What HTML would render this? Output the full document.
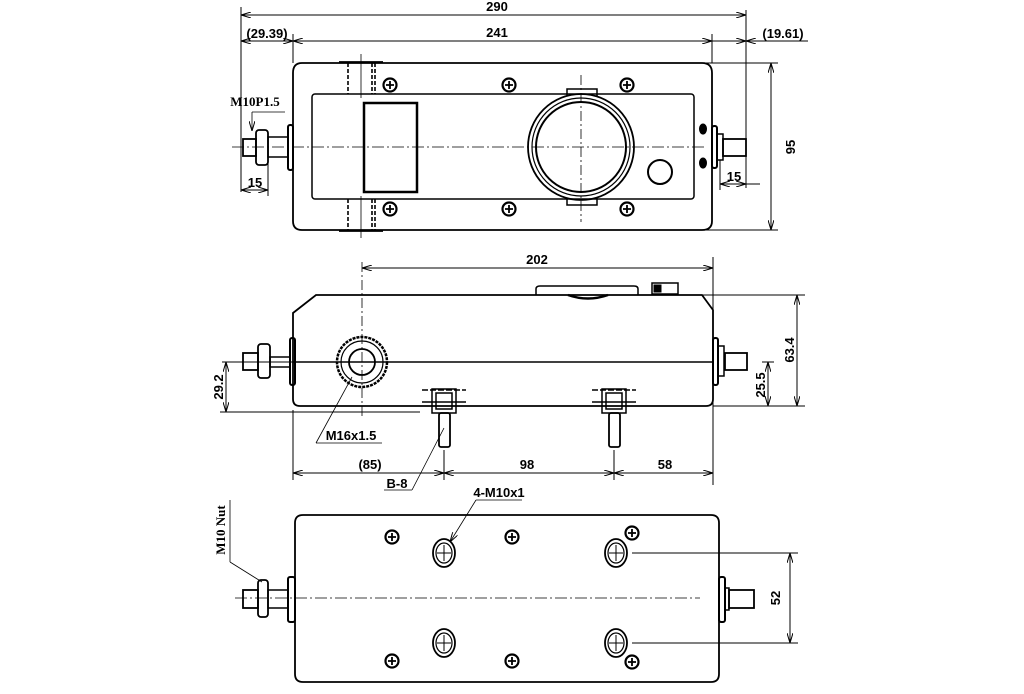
<!DOCTYPE html>
<html><head><meta charset="utf-8"><style>
html,body{margin:0;padding:0;background:#fff}
svg{display:block}
text{font-family:"Liberation Sans",sans-serif;font-size:13px;fill:#000;font-weight:bold}
.b{font-family:"Liberation Serif",serif;font-weight:bold;font-size:13px}
</style></head><body>
<svg width="1024" height="694" viewBox="0 0 1024 694" xmlns="http://www.w3.org/2000/svg">
<defs>
<marker id="a" viewBox="0 0 10 6" refX="10" refY="3" markerWidth="10" markerHeight="6" orient="auto-start-reverse" markerUnits="userSpaceOnUse"><path d="M0,0 L10,3 L0,6" fill="none" stroke="#000" stroke-width="1"/></marker>
<g id="scr"><circle r="6.5" fill="#fff" stroke="#000" stroke-width="2.2"/><path d="M-4,0H4M0,-4V4" stroke="#000" stroke-width="1.8"/></g>
<g id="hole"><ellipse rx="11" ry="14" fill="none" stroke="#000" stroke-width="1.8"/><ellipse rx="8" ry="10" fill="none" stroke="#000" stroke-width="1.2"/><path d="M-7,0H7M0,-8V8" stroke="#000" stroke-width="1"/></g>
</defs>
<g fill="none" stroke="#000" stroke-width="1">
<!-- ===== TOP VIEW ===== -->
<line x1="241" y1="7" x2="241" y2="192"/>
<line x1="746" y1="10" x2="746" y2="188"/>
<line x1="293" y1="34" x2="293" y2="63"/>
<line x1="712" y1="34" x2="712" y2="63"/>
<line x1="241" y1="15" x2="746" y2="15" marker-start="url(#a)" marker-end="url(#a)"/>
<line x1="241" y1="41" x2="293" y2="41" marker-start="url(#a)" marker-end="url(#a)"/>
<line x1="293" y1="41" x2="712" y2="41" marker-start="url(#a)" marker-end="url(#a)"/>
<line x1="712" y1="41" x2="746" y2="41" marker-end="url(#a)"/>
<line x1="746" y1="41" x2="808" y2="41" marker-start="url(#a)"/>
<line x1="705" y1="63" x2="778" y2="63"/>
<line x1="705" y1="230" x2="778" y2="230"/>
<line x1="771" y1="63" x2="771" y2="230" marker-start="url(#a)" marker-end="url(#a)"/>
<path d="M302,63H702Q712,63 712,73V221Q712,230 702,230H302Q293,230 293,221V73Q293,63 302,63Z" stroke-width="1.8"/>
<rect x="312" y="94" width="382" height="105" rx="3" stroke-width="1.5"/>
<rect x="364" y="103" width="53" height="89" stroke-width="2.5"/>
<line x1="339" y1="62" x2="383" y2="62" stroke-width="1.8"/>
<line x1="339" y1="231" x2="383" y2="231" stroke-width="1.8"/>
<g stroke-dasharray="4,2" stroke-width="1.6"><line x1="348" y1="63" x2="348" y2="94"/><line x1="372" y1="63" x2="372" y2="94"/><line x1="375" y1="63" x2="375" y2="94"/><line x1="348" y1="199" x2="348" y2="230"/><line x1="372" y1="199" x2="372" y2="230"/><line x1="375" y1="199" x2="375" y2="230"/></g>
<line x1="361" y1="54" x2="361" y2="98" stroke-width="0.8"/>
<line x1="361" y1="196" x2="361" y2="238" stroke-width="0.8"/>
<circle cx="581" cy="147" r="53" stroke-width="1.8"/>
<circle cx="581" cy="147" r="49" stroke-width="1.2"/>
<circle cx="581" cy="147" r="45" stroke-width="2"/>
<path d="M567,96V89H597V96" stroke-width="1.5"/>
<path d="M567,198V205H597V198" stroke-width="1.5"/>
<circle cx="660" cy="172" r="12" stroke-width="2"/>
<line x1="581" y1="75" x2="581" y2="222" stroke-dasharray="10,3,2,3" stroke-width="0.8"/>
<line x1="232" y1="147" x2="705" y2="147" stroke-dasharray="12,3,2,3" stroke-width="0.8"/>
<rect x="288" y="125" width="5" height="45" rx="2" stroke-width="2"/>
<rect x="268" y="137" width="20" height="20" stroke-width="1.5"/>
<rect x="256" y="130" width="12" height="35" rx="3" stroke-width="1.8"/>
<rect x="243" y="139" width="13" height="17" stroke-width="1.8"/>
<path d="M252,112V131" stroke-width="0.8" marker-end="url(#a)"/>
<line x1="252" y1="112" x2="285" y2="112" stroke-width="0.8"/>
<line x1="241" y1="190" x2="268" y2="190" marker-start="url(#a)" marker-end="url(#a)"/>
<line x1="268" y1="160" x2="268" y2="196"/>
<rect x="712" y="126" width="5" height="42" rx="2" stroke-width="2"/>
<rect x="717" y="134" width="6" height="26" stroke-width="1.5"/>
<rect x="723" y="139" width="23" height="17" stroke-width="1.8"/>
<ellipse cx="703" cy="129" rx="3.5" ry="5" fill="#000"/>
<ellipse cx="703" cy="163" rx="3.5" ry="5" fill="#000"/>
<line x1="720" y1="160" x2="720" y2="190"/>
<line x1="720" y1="184" x2="746" y2="184" marker-start="url(#a)" marker-end="url(#a)"/>
<line x1="746" y1="184" x2="760" y2="184"/>

<!-- ===== MIDDLE VIEW ===== -->
<line x1="713" y1="257" x2="713" y2="485"/>
<line x1="362" y1="268" x2="713" y2="268" marker-start="url(#a)" marker-end="url(#a)"/>
<path d="M316,295H702L713,310V399Q713,406 706,406H300Q293,406 293,399V313Z" stroke-width="1.8"/>
<path d="M536,295V289Q536,286 540,286H634Q638,286 638,289V295" stroke-width="1.5"/>
<path d="M568,295Q588,302 608,295" stroke-width="2.5"/>
<rect x="652" y="283" width="26" height="11" stroke-width="1.5"/>
<rect x="654" y="285" width="7" height="7" fill="#000"/>
<line x1="293" y1="362" x2="713" y2="362" stroke-width="1.6"/>
<line x1="222" y1="362" x2="293" y2="362"/>
<line x1="362" y1="262" x2="362" y2="418" stroke-dasharray="10,3,2,3" stroke-width="0.8"/>
<circle cx="362" cy="362" r="25" stroke-width="2.5" stroke-dasharray="3,1"/>
<circle cx="362" cy="362" r="21" stroke-width="1.2"/>
<circle cx="362" cy="362" r="13" stroke-width="1.8"/>
<rect x="290" y="338" width="5" height="47" rx="2" stroke-width="2"/>
<rect x="270" y="357" width="20" height="10" stroke-width="1.5"/>
<rect x="258" y="344" width="12" height="34" rx="3" stroke-width="1.8"/>
<rect x="243" y="353" width="15" height="17" stroke-width="1.8"/>
<rect x="713" y="338" width="5" height="47" rx="2" stroke-width="2"/>
<rect x="718" y="346" width="6" height="30" stroke-width="1.5"/>
<rect x="725" y="353" width="22" height="17" stroke-width="1.8"/>
<g stroke-width="1.5">
<line x1="422" y1="390" x2="466" y2="390" stroke-dasharray="6,2"/><line x1="422" y1="402" x2="466" y2="402"/>
<rect x="432" y="389" width="24" height="24"/><rect x="436" y="393" width="16" height="16"/>
<rect x="439" y="413" width="11" height="34" rx="2" stroke-width="1.8"/>
<line x1="592" y1="390" x2="636" y2="390" stroke-dasharray="6,2"/><line x1="592" y1="402" x2="636" y2="402"/>
<rect x="602" y="389" width="24" height="24"/><rect x="606" y="393" width="16" height="16"/>
<rect x="609" y="413" width="11" height="34" rx="2" stroke-width="1.8"/>
</g>
<line x1="220" y1="412" x2="420" y2="412"/>
<line x1="226" y1="362" x2="226" y2="412" marker-start="url(#a)" marker-end="url(#a)"/>
<line x1="698" y1="295" x2="805" y2="295"/>
<line x1="713" y1="406" x2="805" y2="406"/>
<line x1="762" y1="362" x2="774" y2="362"/>
<line x1="768" y1="362" x2="768" y2="406" marker-start="url(#a)" marker-end="url(#a)"/>
<line x1="797" y1="295" x2="797" y2="406" marker-start="url(#a)" marker-end="url(#a)"/>
<line x1="352" y1="377" x2="316" y2="443" stroke-width="0.8"/>
<line x1="316" y1="443" x2="382" y2="443" stroke-width="0.8"/>
<line x1="293" y1="410" x2="293" y2="480"/>
<line x1="444" y1="450" x2="444" y2="480"/>
<line x1="614" y1="450" x2="614" y2="480"/>
<line x1="293" y1="473" x2="444" y2="473" marker-start="url(#a)" marker-end="url(#a)"/>
<line x1="444" y1="473" x2="614" y2="473" marker-start="url(#a)" marker-end="url(#a)"/>
<line x1="614" y1="473" x2="713" y2="473" marker-start="url(#a)" marker-end="url(#a)"/>
<line x1="444" y1="428" x2="412" y2="490" stroke-width="0.8"/>
<line x1="384" y1="490" x2="412" y2="490" stroke-width="0.8"/>

<!-- ===== BOTTOM VIEW ===== -->
<path d="M303,515H711Q719,515 719,523V674Q719,682 711,682H303Q295,682 295,674V523Q295,515 303,515Z" stroke-width="1.8"/>
<line x1="235" y1="598" x2="700" y2="598" stroke-dasharray="12,3,2,3" stroke-width="0.8"/>
<rect x="288" y="577" width="7" height="45" rx="2" stroke-width="2"/>
<rect x="268" y="590" width="20" height="18" stroke-width="1.5"/>
<rect x="258" y="580" width="10" height="37" rx="3" stroke-width="1.8"/>
<rect x="243" y="590" width="15" height="18" stroke-width="1.8"/>
<rect x="719" y="577" width="6" height="45" rx="2" stroke-width="2"/>
<rect x="725" y="588" width="4" height="22" stroke-width="1.5"/>
<rect x="729" y="590" width="25" height="18" stroke-width="1.8"/>
<line x1="230" y1="562" x2="262" y2="582" stroke-width="0.8"/>
<line x1="230" y1="500" x2="230" y2="562" stroke-width="0.8"/>
<line x1="632" y1="553" x2="798" y2="553"/>
<line x1="632" y1="643" x2="798" y2="643"/>
<line x1="790" y1="553" x2="790" y2="643" marker-start="url(#a)" marker-end="url(#a)"/>
<line x1="476" y1="500" x2="522" y2="500" stroke-width="0.8"/>
<line x1="476" y1="500" x2="450" y2="542" stroke-width="0.8" marker-end="url(#a)"/>
</g>
<use href="#scr" x="390" y="85"/><use href="#scr" x="509" y="85"/><use href="#scr" x="627" y="85"/>
<use href="#scr" x="390" y="209"/><use href="#scr" x="509" y="209"/><use href="#scr" x="627" y="209"/>
<use href="#scr" x="392" y="537"/><use href="#scr" x="512" y="537"/><use href="#scr" x="632" y="533"/>
<use href="#scr" x="392" y="661"/><use href="#scr" x="512" y="661"/><use href="#scr" x="632" y="662"/>
<use href="#hole" x="444" y="553"/><use href="#hole" x="616" y="553"/>
<use href="#hole" x="444" y="643"/><use href="#hole" x="616" y="643"/>
<text x="497" y="11" text-anchor="middle">290</text>
<text x="497" y="37" text-anchor="middle">241</text>
<text x="267" y="38" text-anchor="middle">(29.39)</text>
<text x="783" y="38" text-anchor="middle">(19.61)</text>
<text x="255" y="106" text-anchor="middle" class="b">M10P1.5</text>
<text x="255" y="187" text-anchor="middle">15</text>
<text x="734" y="181" text-anchor="middle">15</text>
<text transform="translate(795,147) rotate(-90)" text-anchor="middle">95</text>
<text x="537" y="264" text-anchor="middle">202</text>
<text transform="translate(223,387) rotate(-90)" text-anchor="middle">29.2</text>
<text transform="translate(765,385) rotate(-90)" text-anchor="middle">25.5</text>
<text transform="translate(794,350) rotate(-90)" text-anchor="middle">63.4</text>
<text x="351" y="440" text-anchor="middle">M16x1.5</text>
<text x="370" y="469" text-anchor="middle">(85)</text>
<text x="527" y="469" text-anchor="middle">98</text>
<text x="665" y="469" text-anchor="middle">58</text>
<text x="397" y="488" text-anchor="middle">B-8</text>
<text x="499" y="497" text-anchor="middle">4-M10x1</text>
<text transform="translate(225,530) rotate(-90)" text-anchor="middle" class="b">M10 Nut</text>
<text transform="translate(780,598) rotate(-90)" text-anchor="middle">52</text>
</svg>
</body></html>
